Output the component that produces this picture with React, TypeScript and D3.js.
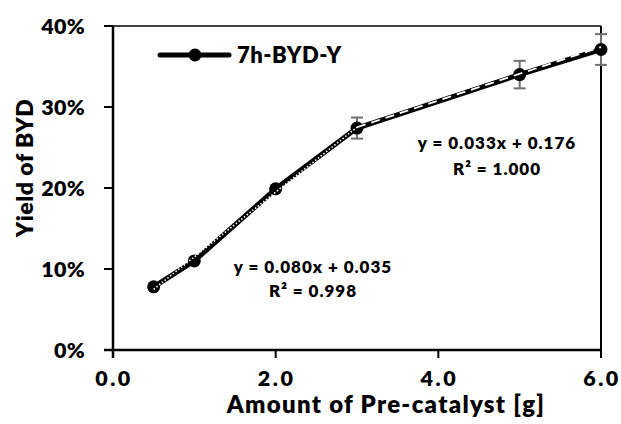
import React from "react";
import * as d3 from "d3";

const amounts = [0.5, 1.0, 2.0, 3.0, 5.0, 6.0];
const yields = [0.078, 0.110, 0.199, 0.274, 0.340, 0.371];
const errors = [0, 0, 0, 0.013, 0.017, 0.019];
const xTicks = [0, 2, 4, 6];
const yTicks = [0, 0.1, 0.2, 0.3, 0.4];
const seriesName = "7h-BYD-Y";
const fit1 = { slope: 0.08, intercept: 0.035, from: 0.5, to: 3.0, eq: "y = 0.080x + 0.035", r2: "R² = 0.998" };
const fit2 = { slope: 0.033, intercept: 0.176, from: 3.0, to: 6.0, eq: "y = 0.033x + 0.176", r2: "R² = 1.000" };

const W = 621, H = 424;
const M = { left: 113, right: 20, top: 26, bottom: 74 };
const FONT = "Lato, 'Open Sans', sans-serif";

export default function App() {
  const x = d3.scaleLinear().domain([0, 6]).range([M.left, W - M.right]);
  const y = d3.scaleLinear().domain([0, 0.4]).range([H - M.bottom, M.top]);
  const pts = amounts.map((a, i) => [a, yields[i]] as [number, number]);
  const line = d3.line<[number, number]>().x(d => x(d[0])).y(d => y(d[1]));
  const fitLine = (f: typeof fit1) =>
    line([[f.from, f.slope * f.from + f.intercept], [f.to, f.slope * f.to + f.intercept]]);
  const x0 = x(0), x1 = x(6), y0 = y(0), y1 = y(0.4);
  return (
    <svg width={W} height={H} style={{ position: "absolute", left: 0, top: 0, background: "#fff" }} fontFamily={FONT} fontWeight={800}>
      <rect width={W} height={H} fill="#fff" />
      {/* frame */}
      <line x1={x0 - 9} x2={x1} y1={y1} y2={y1} stroke="#000" strokeWidth={1.5} />
      <line x1={x1} x2={x1} y1={y1} y2={y0 + 8} stroke="#000" strokeWidth={2} />
      <line x1={x0} x2={x0} y1={y1} y2={y0 + 8} stroke="#000" strokeWidth={2.5} />
      <line x1={x0 - 9} x2={x1} y1={y0} y2={y0} stroke="#000" strokeWidth={2.5} />
      {yTicks.map(t => (
        <g key={"y" + t}>
          <line x1={x0 - 9} x2={x0} y1={y(t)} y2={y(t)} stroke="#000" strokeWidth={2} />
          <text x={85} y={y(t)} dy="0.36em" textAnchor="end" fontSize={21.5} letterSpacing={0.3}>{d3.format(".0%")(t)}</text>
        </g>
      ))}
      {xTicks.map(t => (
        <g key={"x" + t}>
          <line x1={x(t)} x2={x(t)} y1={y0} y2={y0 + 8} stroke="#000" strokeWidth={2} />
          <text x={x(t) + 1} y={386} textAnchor="middle" fontSize={21.5} letterSpacing={2.5}>{d3.format(".1f")(t)}</text>
        </g>
      ))}
      <text x={386} y={413} textAnchor="middle" fontSize={24} letterSpacing={1.3}>Amount of Pre-catalyst [g]</text>
      <text transform={`translate(33,168) rotate(-90)`} textAnchor="middle" fontSize={23} letterSpacing={0.5}>Yield of BYD</text>
      {/* error bars */}
      {amounts.map((a, i) => errors[i] > 0 && (
        <g key={"e" + i} stroke="#707070" strokeWidth={2}>
          <line x1={x(a)} x2={x(a)} y1={y(yields[i] - errors[i])} y2={y(yields[i] + errors[i])} />
          <line x1={x(a) - 6} x2={x(a) + 6} y1={y(yields[i] - errors[i])} y2={y(yields[i] - errors[i])} />
          <line x1={x(a) - 6} x2={x(a) + 6} y1={y(yields[i] + errors[i])} y2={y(yields[i] + errors[i])} />
        </g>
      ))}
      <path d={line(pts) || ""} fill="none" stroke="#000" strokeWidth={5} strokeLinejoin="round" />
      {pts.map((p, i) => (
        <circle key={"c" + i} cx={x(p[0])} cy={y(p[1])} r={6.5} fill="#000" />
      ))}
      <path d={fitLine(fit1) || ""} fill="none" stroke="#fff" strokeWidth={1.6} strokeDasharray="1.5 2" />
      <path d={fitLine(fit2) || ""} fill="none" stroke="#fff" strokeWidth={1.8} strokeDasharray="9 6" />
      {/* legend */}
      <line x1={160} x2={229} y1={55} y2={55} stroke="#000" strokeWidth={5} strokeLinecap="round" />
      <circle cx={195} cy={55} r={6.5} fill="#000" />
      <text x={237} y={63} fontSize={22} letterSpacing={0.5}>{seriesName}</text>
      {/* annotations */}
      <text x={497} y={149} textAnchor="middle" fontSize={17} letterSpacing={1}>{fit2.eq}</text>
      <text x={497} y={175} textAnchor="middle" fontSize={17} letterSpacing={1}>{fit2.r2}</text>
      <text x={313} y={273} textAnchor="middle" fontSize={17} letterSpacing={1}>{fit1.eq}</text>
      <text x={313} y={297} textAnchor="middle" fontSize={17} letterSpacing={1}>{fit1.r2}</text>
    </svg>
  );
}
